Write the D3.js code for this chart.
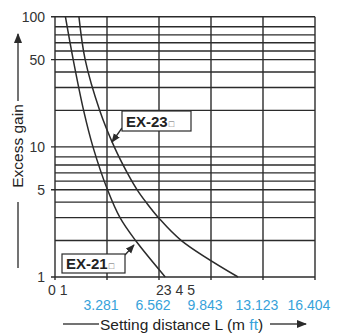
<!DOCTYPE html>
<html>
<head>
<meta charset="utf-8">
<script src="https://cdn.jsdelivr.net/npm/d3@7"></script>
<style>
  body { margin: 0; background: #fff; }
  text { font-family: "Liberation Sans", Arial, sans-serif; }
</style>
</head>
<body>
<svg class="gain" width="337" height="335"></svg>
<script>
var metres = [0, 1, 2, 3, 4, 5];
var metreLabels = ["0 1", "23 4 5"];
var feetLabels = ["3.281", "6.562", "9.843", "13.123", "16.404"];
var gainTicks = [1, 5, 10, 50, 100];
var gainGrid = [1, 2, 3, 4, 5, 6, 7, 8, 9, 10, 20, 30, 40, 50, 60, 70, 80, 90, 100];

var ex21Dist = [0.20, 0.35, 0.55, 0.73, 1.01, 1.25, 1.55, 2.12];
var ex21Gain = [100, 50, 20, 10, 5, 3, 2, 1];
var ex23Dist = [0.46, 0.58, 0.86, 1.14, 1.39, 1.58, 1.75, 1.99, 2.43, 3.52];
var ex23Gain = [100, 50, 20, 10, 7, 5, 4, 3, 2, 1];

(function () {
  var left = 55, right = 315, top = 16.7, bottom = 277;
  var ink = "#2b2b2b";
  var blue = "#36a2da";

  var svg = d3.select(".gain");

  // the printed axis is not a true log scale, each decade is drawn the same way
  var decade = [0, 0.28, 0.456, 0.575, 0.67, 0.737, 0.80, 0.86, 0.923];
  var span = (bottom - top) / 2;
  var yRange = gainGrid.map(function (v) {
    var e = Math.floor(Math.log10(v) + 1e-9);
    var m = Math.round(v / Math.pow(10, e));
    var f = e + (m === 10 ? 1 : decade[m - 1]);
    return bottom - f * span;
  });

  var x = d3.scaleLinear().domain([0, 5]).range([left, right]);
  var y = d3.scaleLog().domain(gainGrid).range(yRange);

  var grid = svg.append("g").attr("stroke", ink).attr("stroke-width", 1.4);

  grid.selectAll("line.h")
    .data(gainGrid)
    .enter().append("line")
      .attr("class", "h")
      .attr("x1", function (d) { return gainTicks.indexOf(d) >= 0 ? left - 4 : left; })
      .attr("x2", right)
      .attr("y1", function (d) { return y(d); })
      .attr("y2", function (d) { return y(d); });

  grid.selectAll("line.v")
    .data(metres)
    .enter().append("line")
      .attr("class", "v")
      .attr("x1", function (d) { return x(d); })
      .attr("x2", function (d) { return x(d); })
      .attr("y1", top)
      .attr("y2", bottom + 3);

  svg.selectAll("text.ytick")
    .data(gainTicks)
    .enter().append("text")
      .attr("class", "ytick")
      .attr("x", left - 10)
      .attr("y", function (d) { return y(d) + 5; })
      .attr("text-anchor", "end")
      .attr("font-size", 14)
      .attr("fill", "#333")
      .text(function (d) { return d; });

  // metre labels are crowded together in the print
  svg.selectAll("text.xtick")
    .data(metreLabels)
    .enter().append("text")
      .attr("class", "xtick")
      .attr("x", function (d, i) { return i === 0 ? x(0) - 7 : x(2) - 3; })
      .attr("y", bottom + 18)
      .attr("font-size", 14)
      .attr("fill", "#333")
      .text(function (d) { return d; });

  svg.selectAll("text.ft")
    .data(feetLabels)
    .enter().append("text")
      .attr("class", "ft")
      .attr("x", function (d, i) { return x(i + 1) - 6; })
      .attr("y", bottom + 33)
      .attr("text-anchor", "middle")
      .attr("font-size", 14)
      .attr("fill", blue)
      .text(function (d) { return d; });

  var line = d3.line()
    .x(function (d) { return x(d[0]); })
    .y(function (d) { return y(d[1]); })
    .curve(d3.curveCatmullRom.alpha(0.5));

  [[ex21Dist, ex21Gain], [ex23Dist, ex23Gain]].forEach(function (s) {
    svg.append("path")
      .datum(d3.zip(s[0], s[1]))
      .attr("fill", "none")
      .attr("stroke", ink)
      .attr("stroke-width", 1.5)
      .attr("d", line);
  });

  svg.append("defs").append("marker")
    .attr("id", "head")
    .attr("viewBox", "0 0 10 10")
    .attr("refX", 9).attr("refY", 5)
    .attr("markerWidth", 7).attr("markerHeight", 7)
    .attr("orient", "auto")
    .append("path").attr("d", "M0,1L10,5L0,9Z").attr("fill", ink);

  function tag(bx, by, bw, bh, name, ax1, ay1, ax2, ay2) {
    svg.append("line")
      .attr("x1", ax1).attr("y1", ay1).attr("x2", ax2).attr("y2", ay2)
      .attr("stroke", ink).attr("stroke-width", 1.3)
      .attr("marker-end", "url(#head)");
    svg.append("rect")
      .attr("x", bx).attr("y", by).attr("width", bw).attr("height", bh)
      .attr("fill", "#fff").attr("stroke", ink).attr("stroke-width", 1.2);
    var t = svg.append("text")
      .attr("x", bx + 4).attr("y", by + bh - 4.5)
      .attr("font-size", 15).attr("font-weight", "bold").attr("fill", "#222");
    t.append("tspan").text(name);
    t.append("tspan").attr("font-size", 9).attr("font-weight", "normal")
      .attr("fill", "#666").attr("dx", 1).text("\u25A1");
  }
  tag(122, 111, 69, 20, "EX-23", 122, 128, 112, 142);
  tag(62, 254, 63, 19, "EX-21", 125, 255, 134, 245);

  // axis titles with their arrows
  var grey = "#444";
  svg.append("line").attr("x1", 18).attr("x2", 18).attr("y1", 101).attr("y2", 34)
    .attr("stroke", grey).attr("stroke-width", 1.5).attr("marker-end", "url(#head)");
  svg.append("line").attr("x1", 18).attr("x2", 18).attr("y1", 202).attr("y2", 268)
    .attr("stroke", grey).attr("stroke-width", 1.5);
  svg.append("text")
    .attr("transform", "translate(22.5,146) rotate(-90)")
    .attr("text-anchor", "middle")
    .attr("font-size", 15.5)
    .attr("fill", "#222")
    .text("Excess gain");

  svg.append("line").attr("x1", 63).attr("x2", 99).attr("y1", 324).attr("y2", 324)
    .attr("stroke", grey).attr("stroke-width", 1.5);
  svg.append("line").attr("x1", 270).attr("x2", 306).attr("y1", 324).attr("y2", 324)
    .attr("stroke", grey).attr("stroke-width", 1.5).attr("marker-end", "url(#head)");
  var xt = svg.append("text")
    .attr("x", 100).attr("y", 329.5)
    .attr("font-size", 15.5)
    .attr("fill", "#222");
  xt.append("tspan").text("Setting distance L (m ");
  xt.append("tspan").attr("fill", blue).text("ft");
  xt.append("tspan").text(")");
})();
</script>
</body>
</html>
